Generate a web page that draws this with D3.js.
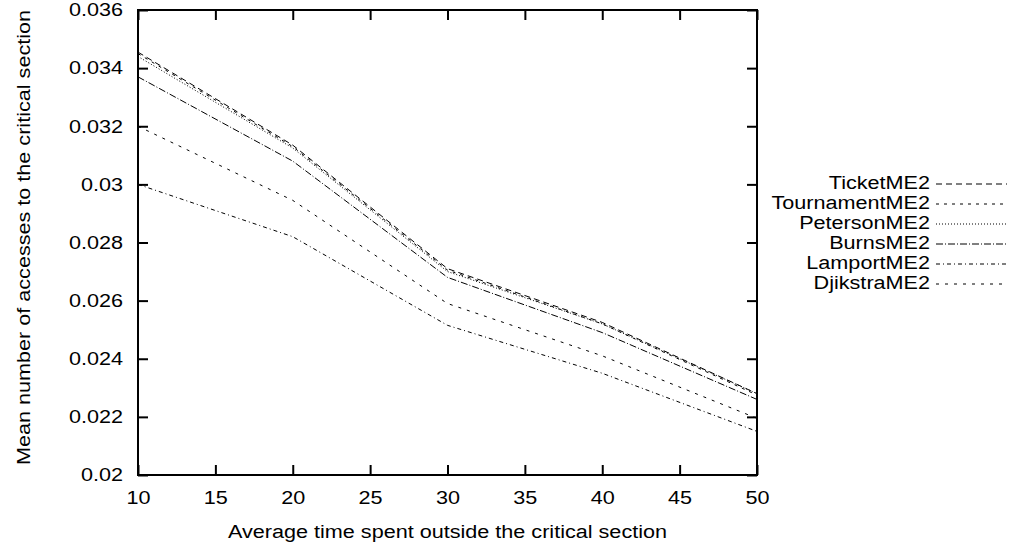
<!DOCTYPE html>
<html>
<head>
<meta charset="utf-8">
<script src="https://cdn.jsdelivr.net/npm/d3@7"></script>
<style>
  body { margin: 0; background: #fff; }
  text { font-family: "Liberation Sans", Arial, sans-serif; fill: #000; }
</style>
</head>
<body>
<div id="chart"></div>
<script>
// data
const xValues = [10, 20, 30, 40, 50];
const seriesNames = ["TicketME2", "TournamentME2", "PetersonME2", "BurnsME2", "LamportME2", "DjikstraME2"];
const ticket = [0.03455, 0.03135, 0.0271, 0.02525, 0.0228];
const tournament = [0.0345, 0.0313, 0.02705, 0.0252, 0.02275];
const peterson = [0.0344, 0.03125, 0.0270, 0.0252, 0.0228];
const burns = [0.0337, 0.0308, 0.0268, 0.0249, 0.0226];
const lamport = [0.0300, 0.0282, 0.02515, 0.0235, 0.0215];
const djikstra = [0.0320, 0.02945, 0.0259, 0.0241, 0.02195];
const xTicks = [10, 15, 20, 25, 30, 35, 40, 45, 50];
const yTicks = [0.02, 0.022, 0.024, 0.026, 0.028, 0.03, 0.032, 0.034, 0.036];

const allSeries = [ticket, tournament, peterson, burns, lamport, djikstra];
const dashes = ["6,4", "3,5", "1,2", "7,2,1,2", "4,3,1,3", "3,6"];

const W = 1018, H = 547;
const margin = { top: 10, left: 138, right: 261, bottom: 72 };
const width = W - margin.left - margin.right,
    height = H - margin.top - margin.bottom;
const fontSize = "18px";
const stretch = 1.2; // reference glyphs are wider than Liberation Sans

const svg = d3.select("#chart").append("svg")
    .attr("width", W)
    .attr("height", H);

const g = svg.append("g")
    .attr("transform", `translate(${margin.left},${margin.top})`);

const x = d3.scaleLinear().domain([10, 50]).range([0, width]);
const y = d3.scaleLinear().domain([0.02, 0.036]).range([height, 0]);

// axes with inward ticks on all sides (gnuplot style)
const fmtY = d => String(+d.toFixed(3));
g.append("g")
    .attr("transform", `translate(0,${height})`)
    .call(d3.axisBottom(x).tickValues(xTicks).tickSize(-10).tickPadding(16))
    .call(a => a.select(".domain").remove());
g.append("g")
    .call(d3.axisTop(x).tickValues(xTicks).tickSize(-10).tickFormat(""))
    .call(a => a.select(".domain").remove());
g.append("g")
    .call(d3.axisLeft(y).tickValues(yTicks).tickSize(-10).tickPadding(15).tickFormat(fmtY))
    .call(a => a.select(".domain").remove());
g.append("g")
    .attr("transform", `translate(${width},0)`)
    .call(d3.axisRight(y).tickValues(yTicks).tickSize(-10).tickFormat(""))
    .call(a => a.select(".domain").remove());

g.selectAll(".tick line").attr("stroke", "#000").attr("stroke-width", 2);
g.selectAll(".tick text").style("font-size", fontSize);

g.append("rect")
    .attr("width", width)
    .attr("height", height)
    .attr("fill", "none")
    .attr("stroke", "#000")
    .attr("stroke-width", 2);

// lines
const line = d3.line()
    .x((d, i) => x(xValues[i]))
    .y(d => y(d));

g.selectAll(".series")
    .data(allSeries)
    .enter()
    .append("path")
    .attr("class", "series")
    .attr("d", d => line(d))
    .attr("fill", "none")
    .attr("stroke", "#000")
    .attr("stroke-width", 1)
    .attr("stroke-dasharray", (d, i) => dashes[i]);

// legend
const legend = svg.append("g");
seriesNames.forEach((name, i) => {
    const ly = 184 + i * 20;
    legend.append("text")
        .attr("x", 930)
        .attr("y", ly + 5)
        .attr("text-anchor", "end")
        .style("font-size", fontSize)
        .text(name);
    legend.append("line")
        .attr("x1", 936)
        .attr("x2", 1007)
        .attr("y1", ly)
        .attr("y2", ly)
        .attr("stroke", "#000")
        .attr("stroke-width", 1)
        .attr("stroke-dasharray", dashes[i]);
});

// axis titles
svg.append("text")
    .attr("x", margin.left + width / 2)
    .attr("y", 538)
    .attr("text-anchor", "middle")
    .style("font-size", fontSize)
    .text("Average time spent outside the critical section");

svg.append("text")
    .attr("transform", `translate(30,${margin.top + height / 2 - 5}) rotate(-90)`)
    .attr("text-anchor", "middle")
    .style("font-size", fontSize)
    .text("Mean number of accesses to the critical section");

// widen every label to the reference's glyph width
svg.selectAll("text").each(function () {
    const len = this.getComputedTextLength();
    d3.select(this)
        .attr("textLength", len * stretch)
        .attr("lengthAdjust", "spacingAndGlyphs");
});
</script>
</body>
</html>
